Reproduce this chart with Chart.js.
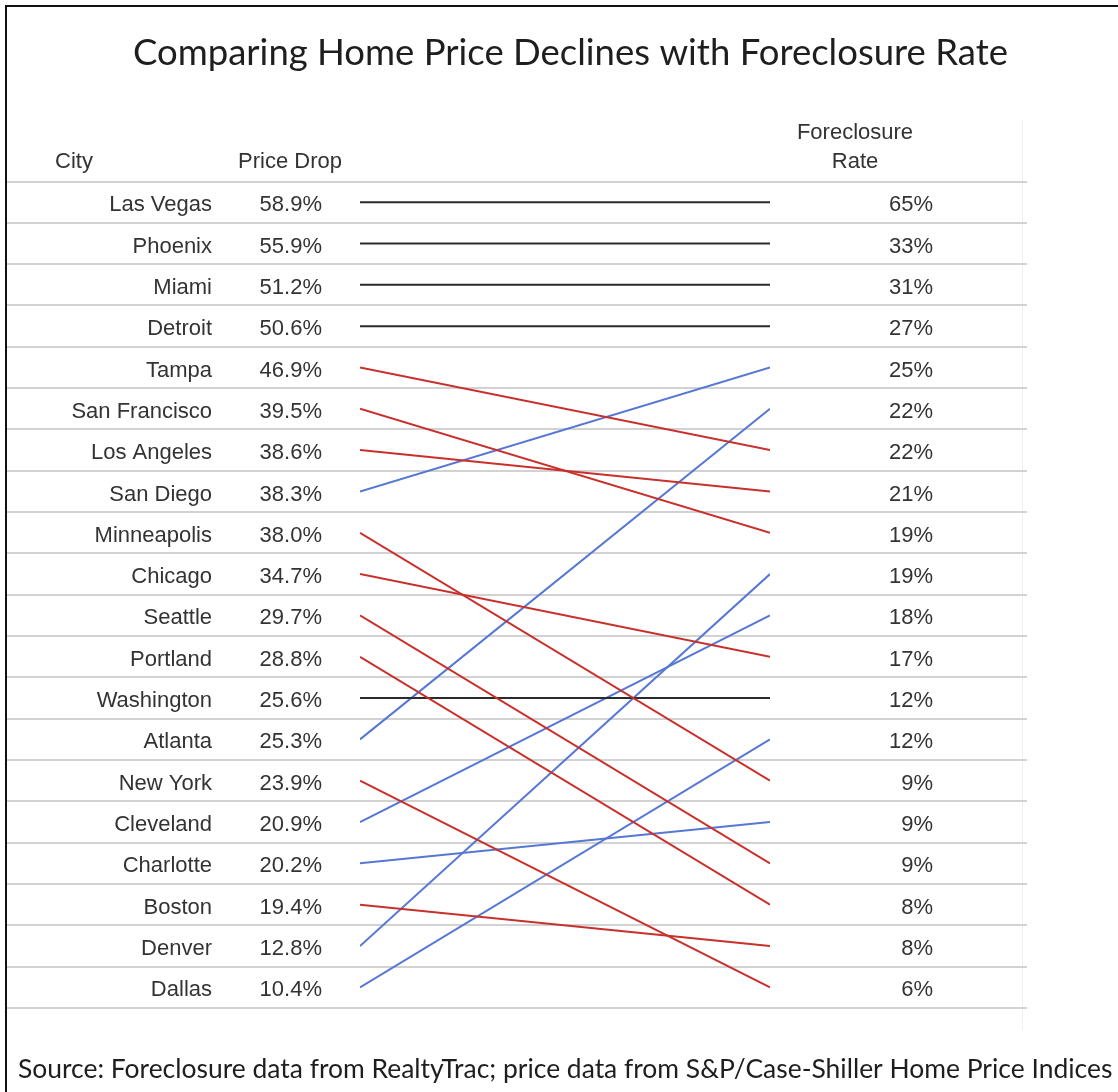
<!DOCTYPE html>
<html>
<head>
<meta charset="utf-8">
<title>Home Price Declines vs Foreclosure Rate</title>
<script src="https://cdn.jsdelivr.net/npm/chart.js@4.4.1/dist/chart.umd.min.js"></script>
<style>
  html, body { margin: 0; padding: 0; background: #fff; }
  #wrap { width: 1118px; height: 1092px; position: relative; }
</style>
</head>
<body>
<div id="wrap"><canvas id="slopeChart"></canvas></div>
<script>
// cities ordered by price drop, largest first
const cities = ['Las Vegas', 'Phoenix', 'Miami', 'Detroit', 'Tampa', 'San Francisco', 'Los Angeles',
    'San Diego', 'Minneapolis', 'Chicago', 'Seattle', 'Portland', 'Washington', 'Atlanta',
    'New York', 'Cleveland', 'Charlotte', 'Boston', 'Denver', 'Dallas'];
const priceDrop = [58.9, 55.9, 51.2, 50.6, 46.9, 39.5, 38.6, 38.3, 38.0, 34.7,
    29.7, 28.8, 25.6, 25.3, 23.9, 20.9, 20.2, 19.4, 12.8, 10.4];
// foreclosure rates, sorted column on the right
const foreclosureRate = [65, 33, 31, 27, 25, 22, 22, 21, 19, 19, 18, 17, 12, 12, 9, 9, 9, 8, 8, 6];
// row of each city's foreclosure rate in the sorted column
const rateRank = [0, 1, 2, 3, 6, 8, 7, 4, 14, 11, 16, 17, 12, 5, 19, 10, 15, 18, 9, 13];

const titleText = 'Comparing Home Price Declines with Foreclosure Rate';
const sourceText = 'Source: Foreclosure data from RealtyTrac; price data from S&P/Case-Shiller Home Price Indices';

const SAME = '#2a2a2a', WORSE = '#c9302c', BETTER = '#5677d3';
const TEXT = '#333333';
const TABLE_FONT = '22px "Liberation Sans", Arial, sans-serif';

function lineColor(i) {
    if (rateRank[i] === i) return SAME;
    return rateRank[i] > i ? WORSE : BETTER;
}

var datasets = cities.map(function (city, i) {
    return {
        label: city,
        data: [{ x: 0, y: i + 0.5 }, { x: 1, y: rateRank[i] + 0.5 }],
        borderColor: lineColor(i),
        borderWidth: 2,
        pointRadius: 0,
        tension: 0
    };
});

// font size that makes text span a given width
function fitFont(ctx, text, family, width) {
    ctx.font = '100px ' + family;
    var w = ctx.measureText(text).width;
    return (100 * width / w).toFixed(2) + 'px ' + family;
}

const tablePlugin = {
    id: 'tablePlugin',
    beforeDatasetsDraw: function (chart) {
        var ctx = chart.ctx;
        var y = chart.scales.y;
        ctx.save();
        ctx.fillStyle = '#fff';
        ctx.fillRect(0, 0, chart.width, chart.height);

        // frame
        ctx.strokeStyle = '#111';
        ctx.lineWidth = 2;
        ctx.beginPath();
        ctx.moveTo(6, chart.height + 5);
        ctx.lineTo(6, 6);
        ctx.lineTo(chart.width + 5, 6);
        ctx.stroke();

        // faint right edge of the table
        ctx.strokeStyle = '#efefef';
        ctx.lineWidth = 1;
        ctx.beginPath();
        ctx.moveTo(1022.5, 120);
        ctx.lineTo(1022.5, 1030);
        ctx.stroke();

        // row separators
        ctx.strokeStyle = '#d2d2d2';
        ctx.lineWidth = 2;
        for (var r = 0; r <= cities.length; r++) {
            var py = Math.round(y.getPixelForValue(r));
            ctx.beginPath();
            ctx.moveTo(7, py);
            ctx.lineTo(1027, py);
            ctx.stroke();
        }
        ctx.restore();
    },
    afterDraw: function (chart) {
        var ctx = chart.ctx;
        var y = chart.scales.y;
        ctx.save();

        // title
        ctx.fillStyle = '#1e1e1e';
        ctx.font = fitFont(ctx, titleText, 'Lato, sans-serif', 875);
        ctx.textAlign = 'left';
        ctx.textBaseline = 'alphabetic';
        ctx.fillText(titleText, 133, 65);

        // headers
        ctx.fillStyle = TEXT;
        ctx.font = TABLE_FONT;
        ctx.textAlign = 'center';
        ctx.fillText('City', 74, 168);
        ctx.fillText('Price Drop', 290, 168);
        ctx.fillText('Foreclosure', 855, 139);
        ctx.fillText('Rate', 855, 168);

        // rows
        ctx.textBaseline = 'middle';
        cities.forEach(function (city, i) {
            var py = y.getPixelForValue(i + 0.5) + 3;
            ctx.textAlign = 'right';
            ctx.fillText(city, 212, py);
            ctx.fillText(priceDrop[i].toFixed(1) + '%', 322, py);
            ctx.fillText(foreclosureRate[i] + '%', 933, py);
        });

        // source note
        ctx.fillStyle = '#1e1e1e';
        ctx.textBaseline = 'alphabetic';
        ctx.textAlign = 'left';
        ctx.font = fitFont(ctx, sourceText, 'Lato, sans-serif', 1095);
        ctx.fillText(sourceText, 18, 1078);
        ctx.restore();
    }
};

var slopeChart = new Chart(document.getElementById('slopeChart').getContext('2d'), {
    type: 'line',
    data: { datasets: datasets },
    options: {
        responsive: true,
        maintainAspectRatio: false,
        animation: false,
        layout: {
            padding: { left: 360, right: 348, top: 181.5, bottom: 84 }
        },
        scales: {
            x: { type: 'linear', min: 0, max: 1, display: false },
            y: { type: 'linear', min: 0, max: cities.length, reverse: true, display: false }
        },
        plugins: {
            legend: { display: false },
            tooltip: { enabled: false }
        }
    },
    plugins: [tablePlugin]
});
</script>
</body>
</html>
